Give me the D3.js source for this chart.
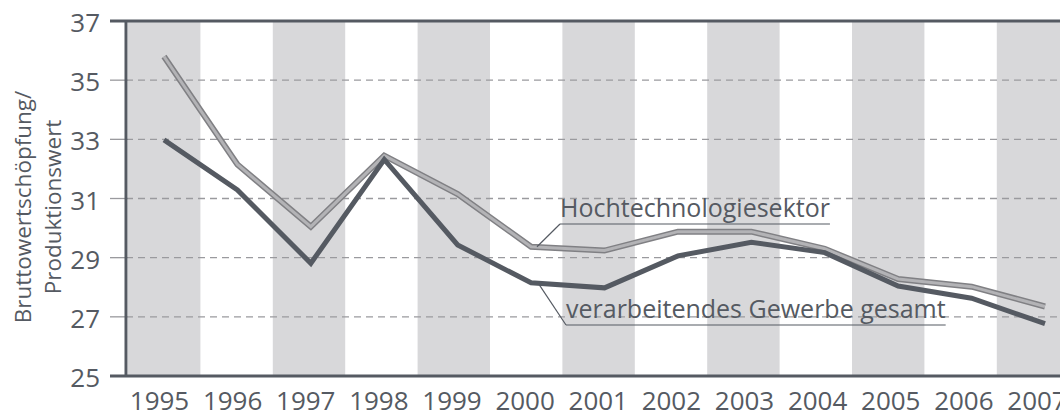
<!DOCTYPE html>
<html><head><meta charset="utf-8">
<script src="https://cdn.jsdelivr.net/npm/d3@7"></script>
<style>body{margin:0;background:#fff}svg{display:block;font-family:"Open Sans",sans-serif}</style>
</head><body><svg id="c" width="1060" height="414"></svg>
<script>
const years = [1995,1996,1997,1998,1999,2000,2001,2002,2003,2004,2005,2006,2007];
const hochtech = [35.8,32.15,30.05,32.45,31.15,29.37,29.24,29.88,29.88,29.3,28.28,28.02,27.35];
const gesamt = [32.98,31.29,28.81,32.32,29.43,28.15,27.98,29.06,29.52,29.17,28.04,27.63,26.77];
const yTicks = [25,27,29,31,33,35,37];
const yTitle = ["Bruttowertschöpfung/","Produktionswert"];
const labelHoch = "Hochtechnologiesektor";
const labelGes = "verarbeitendes Gewerbe gesamt";

const ink = "#555a62";
const svg = d3.select("#c");
const y = d3.scaleLinear().domain([25,37]).range([376,21]);
const xBand = d3.scaleBand().domain(years).range([128,128+13*72.4]).padding(0);
const xPt = d3.scalePoint().domain(years).range([164,1045]);
const xLab = d3.scalePoint().domain(years).range([159.5,1037]);

// bands
svg.append("g").selectAll("rect").data(years.filter((d,i)=>i%2===0)).join("rect")
  .attr("x",d=>xBand(d)).attr("width",xBand.bandwidth())
  .attr("y",y(37)).attr("height",y(25)-y(37)).attr("fill","#d8d8da");

// gridlines
svg.append("g").selectAll("line").data(yTicks.filter(t=>t>25&&t<37)).join("line")
  .attr("x1",126).attr("x2",1060).attr("y1",d=>y(d)).attr("y2",d=>y(d))
  .attr("stroke","#9a9a9e").attr("stroke-width",1.3).attr("stroke-dasharray","7,5");
svg.append("g").selectAll("line").data(yTicks.filter(t=>t>25&&t<37)).join("line")
  .attr("x1",110).attr("x2",126).attr("y1",d=>y(d)).attr("y2",d=>y(d))
  .attr("stroke","#9a9a9e").attr("stroke-width",1.3);

// frame
svg.append("line").attr("x1",110).attr("x2",1060).attr("y1",y(37)).attr("y2",y(37)).attr("stroke",ink).attr("stroke-width",3);
svg.append("line").attr("x1",110).attr("x2",1060).attr("y1",y(25)).attr("y2",y(25)).attr("stroke",ink).attr("stroke-width",3);
svg.append("line").attr("x1",126).attr("x2",126).attr("y1",y(37)).attr("y2",y(25)).attr("stroke",ink).attr("stroke-width",3);

// y tick labels
svg.append("g").selectAll("text").data(yTicks).join("text")
  .attr("x",100).attr("y",d=>y(d)+11).attr("text-anchor","end")
  .attr("font-size",26).attr("fill",ink).text(d=>d);

// x labels
svg.append("g").selectAll("text").data(years).join("text")
  .attr("x",d=>xLab(d)).attr("y",410).attr("text-anchor","middle")
  .attr("font-size",26).attr("fill",ink).text(d=>d);

// y title
const yt = svg.append("text").attr("transform","translate(31,207) rotate(-90)")
  .attr("text-anchor","middle").attr("font-size",22.5).attr("fill",ink);
yt.selectAll("tspan").data(yTitle).join("tspan").attr("x",0).attr("dy",(d,i)=>i===0?0:30).text(d=>d);

// lines
const line = d3.line().x((d,i)=>xPt(years[i])).y(d=>y(d));
svg.append("path").datum(hochtech).attr("d",line).attr("fill","none")
  .attr("stroke","#808084").attr("stroke-width",6).attr("stroke-linejoin","miter");
svg.append("path").datum(hochtech).attr("d",line).attr("fill","none")
  .attr("stroke","#b3b3b6").attr("stroke-width",3).attr("stroke-linejoin","miter");
svg.append("path").datum(gesamt).attr("d",line).attr("fill","none")
  .attr("stroke",ink).attr("stroke-width",5).attr("stroke-linejoin","miter");

// annotations
function annot(label, tx, ty, x2, yrVal){
  const g = svg.append("g");
  const t = g.append("text").attr("x",tx).attr("y",ty).attr("font-size",25).attr("fill",ink).text(label);
  const w = t.node().getComputedTextLength();
  g.append("line").attr("x1",tx).attr("x2",tx+w).attr("y1",ty+7).attr("y2",ty+7).attr("stroke",ink).attr("stroke-width",1.2);
  g.append("line").attr("x1",tx).attr("y1",ty+7).attr("x2",x2).attr("y2",y(yrVal)).attr("stroke",ink).attr("stroke-width",1.2);
}
annot(labelHoch, 560, 217, 537, hochtech[5]);
annot(labelGes, 566, 318, 538, gesamt[5]);
</script></body></html>
